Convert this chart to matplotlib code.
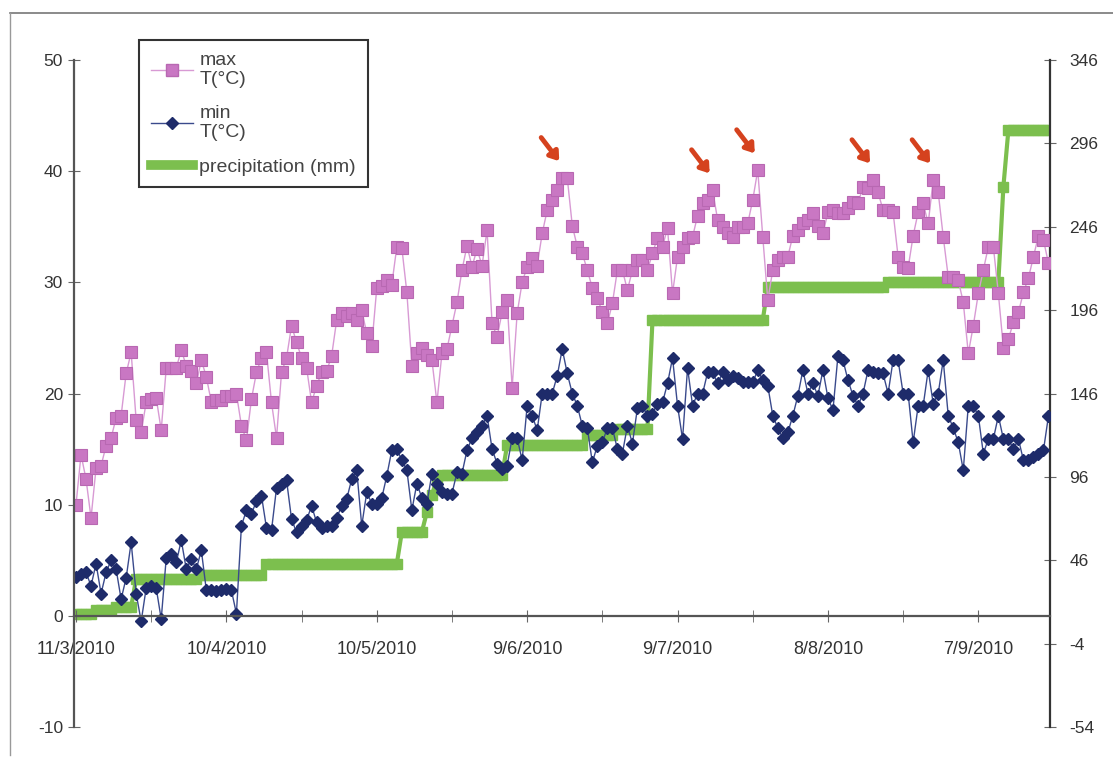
import numpy as np
import matplotlib.pyplot as plt
from matplotlib.lines import Line2D

plt.rcParams['font.family'] = ['Liberation Sans', 'DejaVu Sans']
plt.rcParams['axes.unicode_minus'] = False

# Daily max temperature (°C), starting 11/3/2010
max_t = [
    10.0, 14.5, 12.3, 8.8, 13.3, 13.5, 15.3, 16.0, 17.8, 18.0,
    21.8, 23.7, 17.6, 16.5, 19.2, 19.5, 19.6, 16.7, 22.3, 22.3,
    22.3, 23.9, 22.5, 22.0, 20.9, 23.0, 21.5, 19.2, 19.4, 19.4,
    19.8, 19.8, 20.0, 17.1, 15.8, 19.5, 21.9, 23.2, 23.7, 19.2,
    16.0, 21.9, 23.2, 26.1, 24.6, 23.2, 22.3, 19.2, 20.7, 21.9,
    22.0, 23.4, 26.6, 27.2, 27.0, 27.2, 26.6, 27.5, 25.4, 24.3,
    29.5, 29.7, 30.2, 29.8, 33.2, 33.1, 29.1, 22.5, 23.6, 24.1,
    23.5, 23.0, 19.2, 23.6, 24.0, 26.1, 28.2, 31.1, 33.3, 31.4,
    33.0, 31.5, 34.7, 26.3, 25.1, 27.3, 28.4, 20.5, 27.2, 30.0,
    31.4, 32.2, 31.5, 34.4, 36.5, 37.4, 38.3, 39.4, 39.4, 35.1,
    33.2, 32.6, 31.1, 29.5, 28.6, 27.3, 26.3, 28.1, 31.1, 31.1,
    29.3, 31.1, 32.0, 32.0, 31.1, 32.6, 34.0, 33.2, 34.9, 29.0,
    32.3, 33.2, 34.0, 34.1, 36.0, 37.1, 37.4, 38.3, 35.6, 35.0,
    34.4, 34.1, 35.0, 35.0, 35.3, 37.4, 40.1, 34.1, 28.4, 31.1,
    32.0, 32.3, 32.3, 34.2, 34.7, 35.3, 35.6, 36.2, 35.1, 34.4,
    36.3, 36.5, 36.2, 36.2, 36.7, 37.2, 37.1, 38.6, 38.5, 39.2,
    38.1, 36.5, 36.5, 36.3, 32.3, 31.4, 31.3, 34.2, 36.3, 37.1,
    35.3, 39.2, 38.1, 34.1, 30.5, 30.5, 30.2, 28.2, 23.6, 26.1,
    29.0, 31.1, 33.2, 33.2, 29.0, 24.1, 24.9, 26.4, 27.3, 29.1,
    30.4, 32.3, 34.2, 33.8, 31.7,
]

# Daily min temperature (°C)
min_t = [
    3.5, 3.8, 3.9, 2.7, 4.7, 2.0, 3.9, 5.0, 4.2, 1.5,
    3.4, 6.6, 2.0, -0.5, 2.5, 2.7, 2.5, -0.3, 5.2, 5.6,
    4.8, 6.8, 4.2, 5.1, 4.2, 5.9, 2.3, 2.3, 2.2, 2.3,
    2.4, 2.3, 0.2, 8.1, 9.5, 9.2, 10.3, 10.8, 7.9, 7.7,
    11.5, 11.9, 12.2, 8.7, 7.5, 8.1, 8.6, 9.9, 8.4, 7.9,
    8.1, 8.1, 8.8, 9.9, 10.5, 12.3, 13.1, 8.1, 11.1, 10.1,
    10.1, 10.6, 12.6, 14.9, 15.0, 14.0, 13.1, 9.5, 11.9, 10.6,
    10.1, 12.8, 11.9, 11.1, 11.0, 11.0, 12.9, 12.8, 14.9, 16.0,
    16.5, 17.1, 18.0, 15.0, 13.7, 13.2, 13.5, 16.0, 16.0, 14.0,
    18.9, 18.0, 16.7, 20.0, 20.0, 20.0, 21.6, 24.0, 21.8, 20.0,
    18.9, 17.1, 16.9, 13.8, 15.3, 15.6, 16.9, 16.9, 15.0, 14.6,
    17.1, 15.5, 18.7, 18.9, 18.0, 18.2, 19.1, 19.2, 20.9, 23.2,
    18.9, 15.9, 22.3, 18.9, 20.0, 20.0, 21.9, 21.9, 20.9, 21.9,
    21.2, 21.6, 21.4, 21.0, 21.0, 21.0, 22.1, 21.2, 20.7, 18.0,
    16.9, 16.0, 16.5, 18.0, 19.8, 22.1, 20.0, 20.9, 19.8, 22.1,
    19.6, 18.5, 23.4, 23.0, 21.2, 19.8, 18.9, 20.0, 22.1, 21.9,
    21.8, 21.8, 20.0, 23.0, 23.0, 20.0, 20.0, 15.6, 18.9, 18.9,
    22.1, 19.1, 20.0, 23.0, 18.0, 16.9, 15.6, 13.1, 18.9, 18.9,
    18.0, 14.6, 15.9, 15.9, 18.0, 15.9, 15.9, 15.0, 15.9, 14.0,
    14.0, 14.3, 14.6, 14.9, 18.0,
]

# Cumulative precipitation (mm): level and number of days it holds
precip_levels = [14, 16, 18, 35, 37, 44, 63, 75, 85, 95, 97, 115, 121, 125,
                 190, 210, 213, 270, 304]
precip_runs = [4, 4, 4, 13, 13, 27, 5, 1, 1, 1, 13, 16, 6, 7,
               23, 24, 23, 1, 9]
precip = np.repeat(precip_levels, precip_runs)

days = np.arange(len(max_t))

xtick_days = [0, 30, 60, 90, 120, 150, 180]
xtick_labels = ['11/3/2010', '10/4/2010', '10/5/2010', '9/6/2010',
                '9/7/2010', '8/8/2010', '7/9/2010']
peak_days = [97, 127, 136, 159, 171]

W, H = 1113, 768
fig = plt.figure(figsize=(W / 100, H / 100), dpi=100)
ax = fig.add_axes([74 / W, 1 - 727 / H, (1050 - 74) / W, (727 - 60) / H])
ax2 = ax.twinx()

# precipitation on the right axis, drawn underneath
ax2.plot(days, precip, color='#7CBF4E', lw=3, marker='s', ms=7.5,
         mec='#7CBF4E', zorder=2)
ax.set_zorder(ax2.get_zorder() + 1)
ax.patch.set_visible(False)

ax.plot(days, max_t, color='#D89AD4', lw=1, marker='s', ms=8.5,
        mfc='#C977C3', mec='#B868B2', mew=0.8)
ax.plot(days, min_t, color='#3A4A8C', lw=1, marker='D', ms=6.5,
        mfc='#1E2B6A', mec='#1E2B6A')

for d in peak_days:
    ax.annotate('', xy=(d - 0.6, max_t[d] + 1.5), xytext=(-13, 17),
                textcoords='offset points',
                arrowprops=dict(arrowstyle='-|>,head_length=0.5,head_width=0.35',
                                color='#D5421E', lw=3.5, shrinkA=0, shrinkB=0))

ax.set_xlim(-0.4, 194.3)
ax.set_ylim(-10, 50)
ax2.set_ylim(-54, 346)

ax.spines['bottom'].set_position(('data', 0))
for sp in ['top', 'right']:
    ax.spines[sp].set_visible(False)
for sp in ['top', 'left', 'bottom']:
    ax2.spines[sp].set_visible(False)
for sp in ['left', 'bottom']:
    ax.spines[sp].set_color('#555555')
    ax.spines[sp].set_linewidth(1.6)
ax2.spines['right'].set_color('#333333')
ax2.spines['right'].set_linewidth(1.6)

ax.set_xticks(xtick_days)
ax.set_xticklabels(xtick_labels)
ax.set_xticks(range(15, 195, 30), minor=True)
ax.tick_params(axis='x', which='both', direction='inout', length=8,
               color='#666666', pad=14, labelsize=13, labelcolor='#333333')

ax.set_yticks(range(-10, 51, 10))
ax.tick_params(axis='y', direction='inout', length=8, color='#666666',
               pad=4, labelsize=12.5, labelcolor='#333333')
ax2.set_yticks(range(-54, 347, 50))
ax2.tick_params(axis='y', direction='inout', length=8, color='#666666',
                pad=10, labelsize=12.5, labelcolor='#333333')

handles = [
    Line2D([], [], color='#D89AD4', lw=1, marker='s', ms=8.5,
           mfc='#C977C3', mec='#B868B2'),
    Line2D([], [], color='#3A4A8C', lw=1, marker='D', ms=6.5,
           mfc='#1E2B6A', mec='#1E2B6A'),
    Line2D([], [], color='#7CBF4E', lw=7),
]
labels = ['max\nT(°C)', 'min\nT(°C)', 'precipitation (mm)']
leg = ax.legend(handles, labels, loc='upper left',
                bbox_to_anchor=(139 / W, 1 - 40 / H),
                bbox_transform=fig.transFigure, fontsize=14,
                frameon=True, fancybox=False, handlelength=2.2,
                handletextpad=0.3, labelspacing=0.85, borderpad=0.6,
                borderaxespad=0)
leg.get_frame().set_edgecolor('black')
leg.get_frame().set_linewidth(1.5)
for t in leg.get_texts():
    t.set_color('#444444')

# thin frame around the whole chart
fig.add_artist(Line2D([10 / W, 1], [1 - 13 / H] * 2, transform=fig.transFigure,
                      color='#777777', lw=1.2))
fig.add_artist(Line2D([10 / W] * 2, [1 - 13 / H, 1 - 755 / H],
                      transform=fig.transFigure, color='#999999', lw=1))

fig.savefig('out.png', dpi=100)
